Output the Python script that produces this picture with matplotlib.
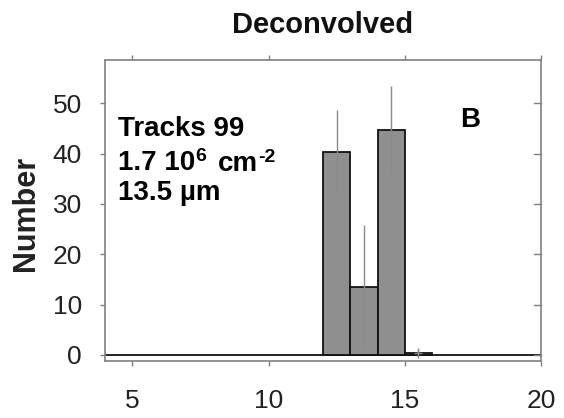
import matplotlib
matplotlib.use("Agg")
import matplotlib.pyplot as plt
import numpy as np

plt.rcParams['font.family'] = ['Liberation Sans', 'DejaVu Sans']

bin_left = [12, 13, 14, 15]
counts = [40.4, 13.6, 44.7, 0.3]
errors = [8.2, 12.2, 8.7, 1.0]
xticks = [5, 10, 15, 20]
yticks = [0, 10, 20, 30, 40, 50]
ylim = (-1.2, 58.6)

W, H = 564, 418
fig = plt.figure(figsize=(W/100, H/100), dpi=100)
ax = fig.add_axes([105/W, 1-361/H, (541-105)/W, (361-60)/H])

centers = np.array(bin_left) + 0.5
ax.bar(bin_left, counts, width=1.0, align='edge', color='#8f8f8f',
       edgecolor='#111111', linewidth=1.3, zorder=2)
ax.errorbar(centers, counts, yerr=errors, fmt='none', ecolor='#8a8a8a',
            elinewidth=1.0, capsize=0, zorder=3)
ax.plot(centers[-1:], counts[-1:], marker='+', color='#8a8a8a', ms=6, zorder=3)
ax.axhline(0, color='#111111', lw=1.3, zorder=1)

ax.set_xlim(4, 20)
ax.set_ylim(*ylim)
ax.set_xticks(xticks)
ax.set_yticks(yticks)
for s in ax.spines.values():
    s.set_color('#808080')
    s.set_linewidth(1.2)
ax.tick_params(axis='both', labelsize=19, colors='#808080', labelcolor='#222222',
               length=3.5, width=1)
ax.tick_params(axis='x', direction='out', top=True, pad=17)
ax.tick_params(axis='y', direction='out', right=False, pad=13)
for y in yticks:
    ax.plot([1, 0.985], [(y - ylim[0]) / (ylim[1] - ylim[0])] * 2,
            transform=ax.transAxes, color='#808080', lw=1, clip_on=False)

fig.text(26/W, 1-213.5/H, 'Number', rotation=90, fontsize=22, fontweight='bold',
         ha='center', va='center', color='#222222')
fig.text(323/W, 1-33/H, 'Deconvolved', fontsize=21, fontweight='bold',
         ha='center', va='baseline', color='#111111')

fs = 20
ax.text(0.03, 0.748, 'Tracks 99', transform=ax.transAxes, fontsize=fs, fontweight='bold', va='baseline')
t1 = ax.text(0.03, 0.635, '1.7 10', transform=ax.transAxes, fontsize=fs, fontweight='bold', va='baseline')
s1 = ax.annotate('6', xy=(1, 1), xycoords=t1, xytext=(0.3, 1.5), textcoords='offset points',
                 fontsize=14, fontweight='bold', ha='left', va='top')
t2 = ax.annotate('cm', xy=(1, 0), xycoords=s1, xytext=(8, -9), textcoords='offset points',
                 fontsize=fs, fontweight='bold', ha='left', va='bottom')
ax.annotate('-2', xy=(1, 1), xycoords=t2, xytext=(0.3, 1.5), textcoords='offset points',
            fontsize=14, fontweight='bold', ha='left', va='top')
ax.text(0.03, 0.535, '13.5 µm', transform=ax.transAxes, fontsize=fs, fontweight='bold', va='baseline')
ax.text(0.814, 0.777, 'B', transform=ax.transAxes, fontsize=fs, fontweight='bold', va='baseline')

fig.savefig('out.png', dpi=100)
